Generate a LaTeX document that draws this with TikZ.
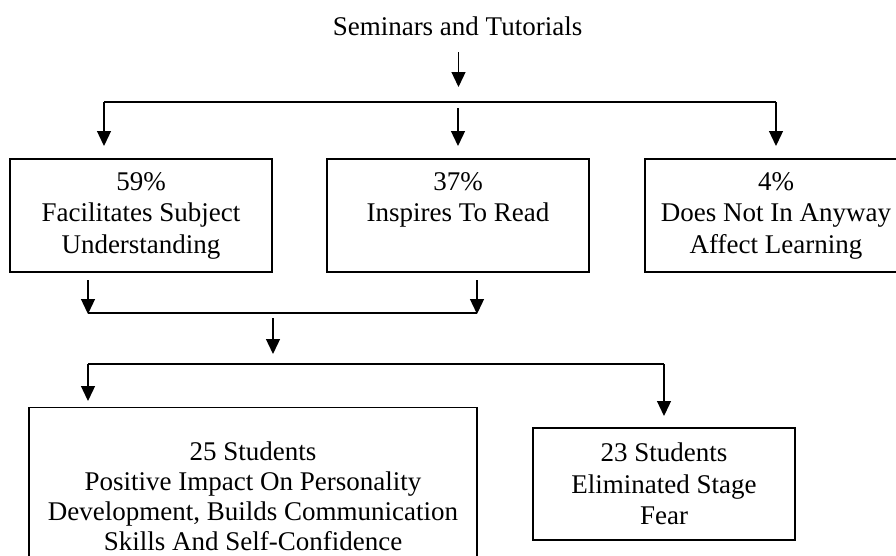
\documentclass[tikz,border=0pt]{standalone}
\usepackage{fontspec}
\setmainfont{Liberation Serif}
\usetikzlibrary{arrows.meta}
\begin{document}
\begin{tikzpicture}[x=1pt,y=-1pt, line width=1.3pt,
  txt/.style={font=\fontsize{27}{31.5}\selectfont},
  box/.style={draw, line width=1.3pt, minimum width=262pt, minimum height=113pt, align=center, txt, inner sep=0pt},
  arr/.style={-{Triangle[width=14pt,length=15pt]}}]
\clip (0,0) rectangle (896,555);
% nodes
\node[txt, anchor=base] (t) at (457.5,35) {Seminars and Tutorials};
\node[box] (b1) at (141,215.5) {59\%\\Facilitates Subject\\Understanding};
\node[box] (b2) at (458,215.5) {37\%\\Inspires To Read\\\vphantom{Understanding}};
\node[box] (b3) at (776,215.5) {4\%\\Does Not In Anyway\\Affect Learning};
\node[box, minimum width=448pt, minimum height=178pt, font=\fontsize{27}{30}\selectfont] (b4) at (253,496.5) {25 Students\\Positive Impact On Personality\\Development, Builds Communication\\Skills And Self-Confidence};
\node[box, minimum width=262pt, minimum height=112pt] (b5) at (664,484) {23 Students\\Eliminated Stage\\Fear};
% junction coordinates
\coordinate (ta) at (458.5,52);  \coordinate (tb) at (458.5,87);
\coordinate (bL) at (104,102);   \coordinate (bR) at (776,102);
\coordinate (mA) at (458,108);
\coordinate (e1) at (104,146);   \coordinate (e2) at (458,146);  \coordinate (e3) at (776,146);
\coordinate (u1) at (88,280);    \coordinate (u2) at (477,280);
\coordinate (w1) at (88,314);    \coordinate (w2) at (477,314);
\coordinate (h1) at (88,313);    \coordinate (h2) at (477,313);
\coordinate (ca) at (273,318);   \coordinate (cb) at (273,354);
\coordinate (gL) at (88,364);    \coordinate (gR) at (664,364);
\coordinate (f1) at (88,401);    \coordinate (f2) at (664,416);
% connectors
\draw[arr] (ta) -- (tb);
\draw (bL) -- (bR);
\draw[arr] (bL) -- (e1);
\draw[arr] (mA) -- (e2);
\draw[arr] (bR) -- (e3);
\draw[arr] (u1) -- (w1);
\draw[arr] (u2) -- (w2);
\draw (h1) -- (h2);
\draw[arr] (ca) -- (cb);
\draw (gL) -- (gR);
\draw[arr] (gL) -- (f1);
\draw[arr] (gR) -- (f2);
\end{tikzpicture}
\end{document}
